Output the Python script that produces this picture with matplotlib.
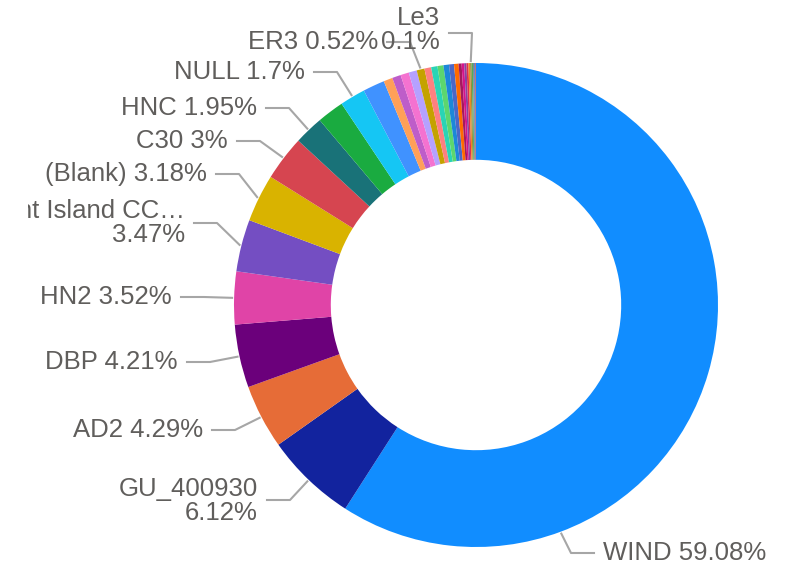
import numpy as np
import matplotlib
matplotlib.use("Agg")
import matplotlib.pyplot as plt
from matplotlib.transforms import Bbox

# slices, clockwise from 12 o'clock (Power BI order, largest first)
names = ['WIND', 'GU_400930', 'AD2', 'DBP', 'HN2', 'Merchant Island CC\u2026', '(Blank)', 'C30', 'HNC',
         None, 'NULL', None, None, None, None, None, 'ER3', None, None, None, None, None, None,
         None, None, None, None, None, 'Le3', None, None, None, None]
values = [59.08, 6.12, 4.29, 4.21, 3.52, 3.47, 3.18, 3.00, 1.95,
          1.80, 1.70, 1.45, 0.60, 0.58, 0.56, 0.54, 0.52, 0.45, 0.42, 0.40, 0.37, 0.33, 0.30,
          0.20, 0.17, 0.15, 0.13, 0.11, 0.10, 0.09, 0.08, 0.07, 0.05]
colors = ['#118DFF', '#12239E', '#E66C37', '#6B007B', '#E044A7', '#744EC2', '#D9B300', '#D64550', '#197278',
          '#1AAB40', '#15C6F4', '#4092FF', '#FFA058', '#BE5DC9', '#F472D0', '#B5A1FF', '#C4A200', '#FD8080',
          '#2AD4B5', '#5CD66E', '#1C88D8', '#4B67C7', '#FF6A00', '#A4195E', '#D4148A', '#8B3FA0', '#E0304B',
          '#E88C1F', '#9C8A3A', '#4DAE5E', '#7A8A8A', '#3D6FD0', '#C05050']

# label layout: text anchor (x, y) in pixels, label line y
label_pos = {
    'WIND': (603, 553, 553),
    'GU_400930': (258, 501, 500),
    'AD2': (203, 430, 430),
    'DBP': (178, 362, 362),
    'HN2': (172, 297, 297),
    'Merchant Island CC\u2026': (185, 223, 223),
    '(Blank)': (207, 174, 174),
    'C30': (228, 141, 141),
    'HNC': (257, 108, 108),
    'NULL': (305, 72, 72),
    'ER3': (378, 42, 42),
    'Le3': (440, 30, 33),
}
two_line = ['GU_400930', 'Merchant Island CC\u2026', 'Le3']
anchor_frac = {'WIND': 0.75}

cx, cy, R = 476, 305, 242

fig = plt.figure(figsize=(7.97, 5.72), dpi=100)
ax = fig.add_axes([0, 0, 1, 1])

ax.pie(values, colors=colors, center=(cx, cy), radius=R, startangle=-90, counterclock=True,
       wedgeprops=dict(width=R * 0.4, linewidth=0), frame=True)
ax.set_xlim(0, 797)
ax.set_ylim(572, 0)
ax.axis('off')

total = sum(values)
cum = np.cumsum([0] + values)
txt_color = '#605E5C'
line_color = '#A6A6A6'

for i, name in enumerate(names):
    if name is None:
        continue
    frac = anchor_frac.get(name, 0.5)
    pct = (cum[i] + frac * values[i]) / total
    ang = np.deg2rad(-90 + 360 * pct)
    axp = cx + (R + 2) * np.cos(ang)
    ayp = cy + (R + 2) * np.sin(ang)
    tx, ty, ly = label_pos[name]
    pct_txt = ('%.2f' % values[i]).rstrip('0').rstrip('.') + '%'
    sep = '\n' if name in two_line else ' '
    label = name + sep + pct_txt
    if name == 'WIND':
        ax.plot([tx - 9, tx - 32, axp], [ly, ly, ayp], color=line_color, lw=1.5)
        ax.text(tx, ty, label, ha='left', va='center', fontsize=18.5, color=txt_color,
                family='Liberation Sans')
    else:
        ax.plot([tx + 9, tx + 32, axp], [ly, ly, ayp], color=line_color, lw=1.5)
        t = ax.text(tx, ty, label, ha='right', va='center', fontsize=18.5, color=txt_color,
                    family='Liberation Sans', multialignment='right', linespacing=1.05)
        if 'Island' in name:
            # long category name is truncated at the visual's left edge, as in Power BI
            t.set_clip_box(Bbox.from_extents(28, 0, 797, 572))
            t.set_clip_on(True)

fig.savefig('out.png', dpi=100)
